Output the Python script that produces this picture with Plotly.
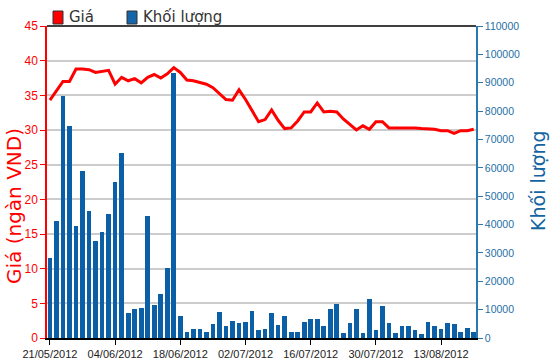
import plotly.graph_objects as go

dates = [
    "21/05/2012", "22/05/2012", "23/05/2012", "24/05/2012", "25/05/2012",
    "28/05/2012", "29/05/2012", "30/05/2012", "31/05/2012", "01/06/2012",
    "04/06/2012", "05/06/2012", "06/06/2012", "07/06/2012", "08/06/2012",
    "11/06/2012", "12/06/2012", "13/06/2012", "14/06/2012", "15/06/2012",
    "18/06/2012", "19/06/2012", "20/06/2012", "21/06/2012", "22/06/2012",
    "25/06/2012", "26/06/2012", "27/06/2012", "28/06/2012", "29/06/2012",
    "02/07/2012", "03/07/2012", "04/07/2012", "05/07/2012", "06/07/2012",
    "09/07/2012", "10/07/2012", "11/07/2012", "12/07/2012", "13/07/2012",
    "16/07/2012", "17/07/2012", "18/07/2012", "19/07/2012", "20/07/2012",
    "23/07/2012", "24/07/2012", "25/07/2012", "26/07/2012", "27/07/2012",
    "30/07/2012", "31/07/2012", "01/08/2012", "02/08/2012", "03/08/2012",
    "06/08/2012", "07/08/2012", "08/08/2012", "09/08/2012", "10/08/2012",
    "13/08/2012", "14/08/2012", "15/08/2012", "16/08/2012", "17/08/2012",
    "20/08/2012",
]

volume = [
    28100, 41400, 85300, 74700, 39600, 59000, 44900, 34300, 37400, 43600,
    55000, 65100, 8800, 10200, 10600, 43100, 11500, 15400, 24600, 93300,
    7900, 2200, 3200, 3200, 2200, 4900, 9300, 4300, 6100, 5300,
    5800, 9600, 2700, 3200, 8800, 4500, 7900, 2200, 2200, 5700,
    6700, 6700, 4100, 10100, 12000, 1900, 5400, 10100, 1900, 13900,
    2700, 11200, 5400, 1900, 4100, 4100, 2700, 1400, 5800, 4100,
    3200, 5400, 4900, 2200, 3600, 2200,
]

price = [
    34.3, 35.6, 37.0, 37.0, 38.8, 38.8, 38.7, 38.3, 38.5, 38.6,
    36.6, 37.6, 37.1, 37.4, 36.8, 37.6, 38.0, 37.5, 38.1, 39.0,
    38.3, 37.2, 37.1, 36.8, 36.6, 36.1, 35.2, 34.4, 34.3, 35.8,
    34.4, 32.8, 31.2, 31.5, 32.9, 31.4, 30.2, 30.3, 31.3, 32.6,
    32.6, 33.9, 32.6, 32.7, 32.6, 31.6, 30.8, 30.0, 30.6, 30.1,
    31.2, 31.2, 30.3, 30.3, 30.3, 30.4, 30.3, 30.2, 30.2, 30.1,
    29.9, 29.9, 29.5, 29.9, 29.9, 30.1,
]

tick_dates = ["21/05/2012", "04/06/2012", "18/06/2012", "02/07/2012",
              "16/07/2012", "30/07/2012", "13/08/2012"]
left_ticks = [0, 5, 10, 15, 20, 25, 30, 35, 40, 45]
right_ticks = [0, 10000, 20000, 30000, 40000, 50000, 60000, 70000,
               80000, 90000, 100000, 110000]

RED = "#ff0000"
BLUE = "#0b5fa6"
AXBLUE = "#2a7ab0"
TF = "Liberation Sans, Arial, sans-serif"

PW, PH = 429, 312  # plot area size in px


def px(xabs):
    return (xabs - 47) / PW


def py(yabs):
    return (338 - yabs) / PH


fig = go.Figure()
fig.add_trace(go.Bar(
    x=dates, y=volume, yaxis="y2", name="Khối lượng",
    marker=dict(color=BLUE, line=dict(width=0)), width=0.72,
))
fig.add_trace(go.Scatter(
    x=dates, y=price, yaxis="y", name="Giá", mode="lines",
    line=dict(color=RED, width=3),
))

fig.update_layout(
    width=550, height=364,
    margin=dict(l=47, r=74, t=26, b=26, pad=0),
    paper_bgcolor="white", plot_bgcolor="white",
    showlegend=False,
    bargap=0,
    xaxis=dict(
        type="category", range=[-0.45, 65.35], automargin=False,
        tickmode="array", tickvals=tick_dates, ticktext=tick_dates,
        tickangle=0,
        ticks="outside", ticklen=5, tickcolor="#000000",
        showline=True, linecolor="#000000", linewidth=1.5,
        showgrid=False, mirror=False,
        tickfont=dict(family=TF, size=11, color="#222222"),
    ),
    yaxis=dict(
        range=[0, 45], tickvals=left_ticks, automargin=False,
        ticks="outside", ticklen=5, tickcolor=RED,
        showline=True, linecolor=RED, linewidth=1.5,
        showgrid=True, gridcolor="#cccccc", gridwidth=1.5,
        zeroline=False,
        tickfont=dict(family=TF, size=12, color=RED),
    ),
    yaxis2=dict(
        range=[0, 110000], tickvals=right_ticks, overlaying="y", side="right",
        tickformat="d", automargin=False,
        ticks="outside", ticklen=5, tickcolor=AXBLUE,
        showline=True, linecolor=AXBLUE, linewidth=1.5,
        showgrid=False, zeroline=False,
        tickfont=dict(family=TF, size=10.5, color="#1f6fa5"),
    ),
    shapes=[
        dict(type="line", xref="paper", yref="paper", x0=0, x1=1, y0=1, y1=1,
             line=dict(color="#000000", width=1.5)),
        dict(type="rect", xref="paper", yref="paper",
             x0=px(53), x1=px(63), y0=py(24), y1=py(11),
             fillcolor=RED, line=dict(color="#333333", width=1)),
        dict(type="rect", xref="paper", yref="paper",
             x0=px(127), x1=px(137), y0=py(24), y1=py(11),
             fillcolor="#1565a8", line=dict(color="#333333", width=1)),
    ],
    annotations=[
        dict(text="Giá", xref="paper", yref="paper",
             x=px(67), y=py(17), xanchor="left", yanchor="middle",
             showarrow=False, font=dict(family="DejaVu Sans", size=15, color="#333333")),
        dict(text="Khối lượng", xref="paper", yref="paper",
             x=px(141), y=py(17), xanchor="left", yanchor="middle",
             showarrow=False, font=dict(family="DejaVu Sans", size=15, color="#333333")),
        dict(text="Giá (ngàn VND)", xref="paper", yref="paper",
             x=px(14), y=py(206), xanchor="center", yanchor="middle",
             textangle=-90, showarrow=False,
             font=dict(family="DejaVu Sans", size=20, color=RED)),
        dict(text="Khối lượng", xref="paper", yref="paper",
             x=px(538), y=py(181), xanchor="center", yanchor="middle",
             textangle=-90, showarrow=False,
             font=dict(family="DejaVu Sans", size=19, color="#14649f")),
    ],
)

fig.write_html(
    "out.html",
    config={"displayModeBar": False},
    post_script="document.body.style.margin='0';document.body.style.padding='0';",
)
